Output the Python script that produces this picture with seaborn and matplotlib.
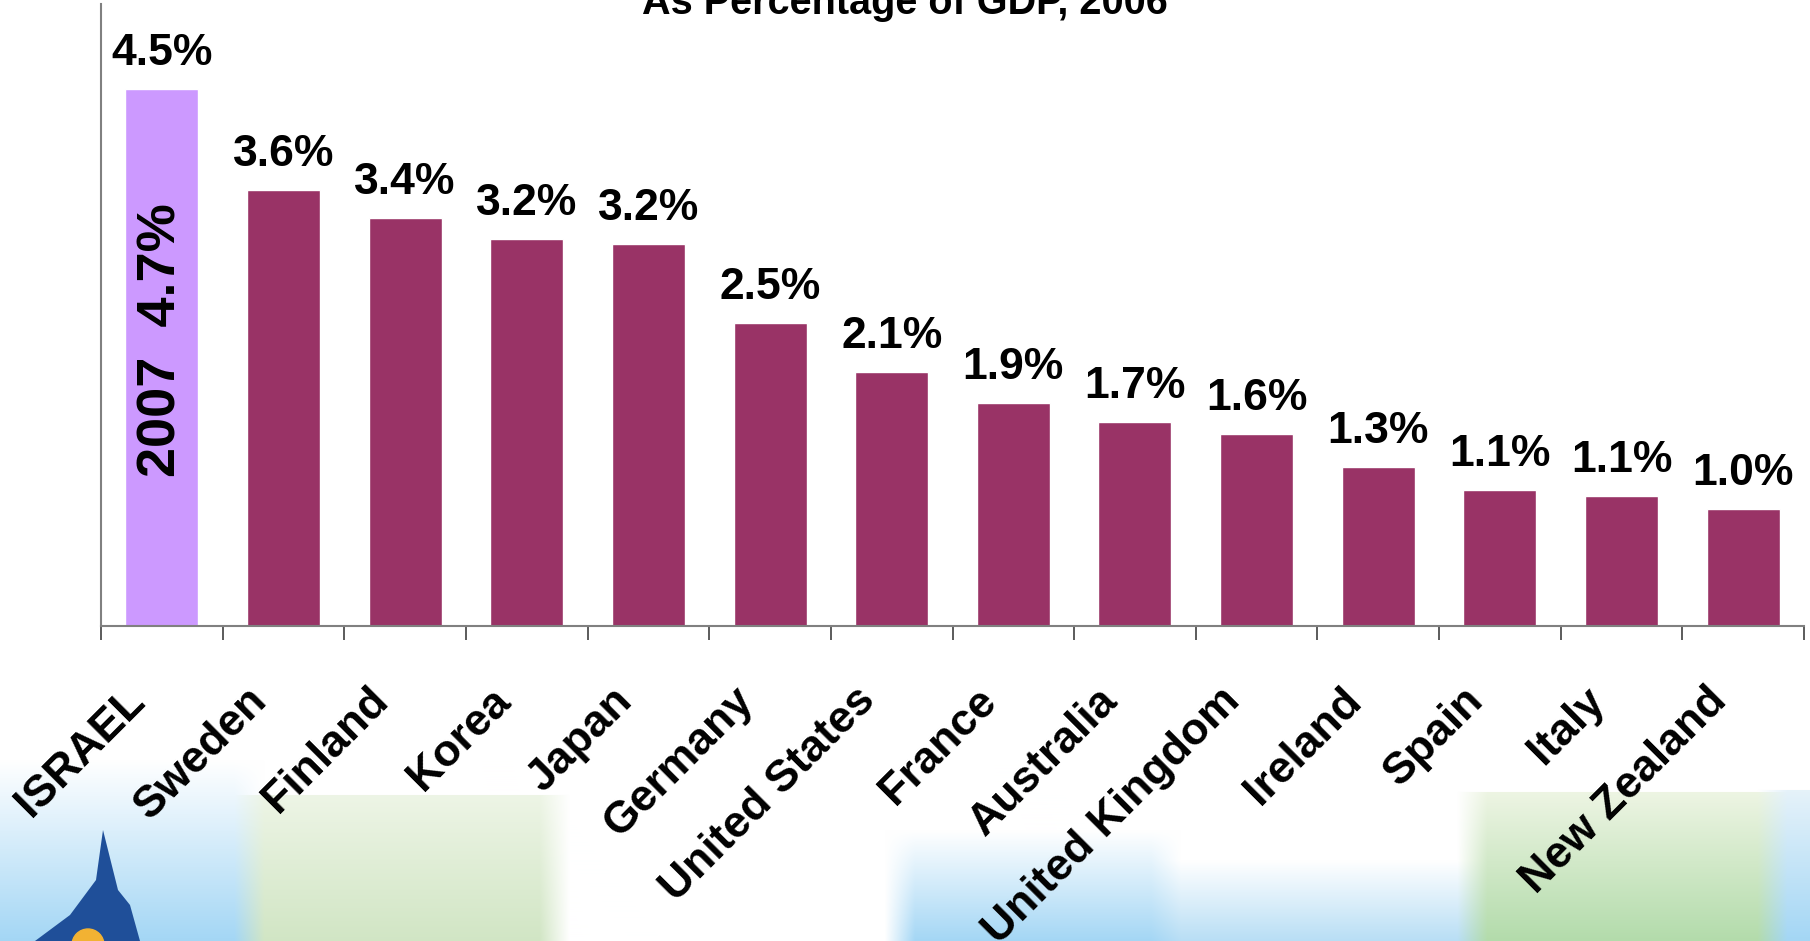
import numpy as np
import matplotlib
matplotlib.use("Agg")
import matplotlib.pyplot as plt
import seaborn as sns
from matplotlib.transforms import ScaledTranslation

# dados (gasto civil em P&D, % do PIB, 2006)
paises = ["ISRAEL", "Sweden", "Finland", "Korea", "Japan", "Germany", "United States",
          "France", "Australia", "United Kingdom", "Ireland", "Spain", "Italy", "New Zealand"]
valores = [4.5, 3.65, 3.42, 3.24, 3.20, 2.54, 2.13, 1.87, 1.71, 1.61, 1.33, 1.14, 1.09, 0.98]
rotulos = ["4.5%", "3.6%", "3.4%", "3.2%", "3.2%", "2.5%", "2.1%", "1.9%", "1.7%",
           "1.6%", "1.3%", "1.1%", "1.1%", "1.0%"]
cores = ["#CC99FF"] + ["#993366"] * 13
nota_israel = "2007  4.7%"
titulo = "As Percentage of GDP, 2006"

sns.set_style("white")
plt.rcParams["font.family"] = ["Liberation Sans", "DejaVu Sans"]
plt.rcParams["text.color"] = "black"
plt.rcParams["xtick.color"] = "black"

W, H = 1810, 941
fig = plt.figure(figsize=(W / 100, H / 100), dpi=100)

# fundo decorativo na parte de baixo (faixas azul / verde)
bg = fig.add_axes([0, 0, 1, 1], zorder=-1)
img = np.ones((H, W, 3))
yy = np.arange(H)[:, None]

def faixa(x0, x1, y0, cor_topo, cor_base):
    t = np.clip((yy - y0) / (H - y0), 0, 1)[..., None]
    ct, cb = np.array(cor_topo), np.array(cor_base)
    alvo = ct * (1 - t) + cb * t
    m = (yy >= y0)[..., None]
    img[:, x0:x1, :] = np.where(m, alvo, img[:, x0:x1, :])

faixa(0, 250, 760, (1.0, 1.0, 1.0), (0.64, 0.84, 0.96))
faixa(250, 555, 795, (0.93, 0.96, 0.90), (0.82, 0.90, 0.77))
faixa(900, 1166, 830, (1.0, 1.0, 1.0), (0.64, 0.84, 0.96))
faixa(1166, 1472, 860, (1.0, 1.0, 1.0), (0.72, 0.87, 0.96))
faixa(1472, 1772, 792, (0.93, 0.96, 0.89), (0.70, 0.86, 0.67))
faixa(1772, W, 790, (0.90, 0.95, 0.98), (0.64, 0.84, 0.96))
# suaviza as bordas na horizontal
k = 15
cs = np.cumsum(np.pad(img, ((0, 0), (k, k), (0, 0)), mode="edge"), axis=1)
img = (cs[:, 2 * k:] - cs[:, :-2 * k]) / (2 * k)
img = np.clip(img[:, :W], 0, 1)
bg.imshow(img, extent=[0, W, H, 0], aspect="auto")
bg.fill([103, 96, 70, 35, 40, 140, 130, 118], [830, 880, 915, 941, 941, 941, 905, 890],
        color="#1f4f99", lw=0)
bg.add_patch(plt.Circle((88, 945), 16, color="#f2b233"))
bg.set_xlim(0, W)
bg.set_ylim(H, 0)
bg.axis("off")

ax = fig.add_axes([101 / W, 1 - 626 / H, (1804 - 101) / W, (626 - 4) / H])
ax.patch.set_alpha(0)
sns.barplot(x=paises, y=valores, hue=paises, palette=cores, legend=False,
            width=0.6, saturation=1, ax=ax)
ax.set_xlim(-0.5, len(paises) - 0.5)
ax.set_ylim(0, 5.213)
ax.set_xlabel("")
ax.set_ylabel("")
ax.set_yticks([])

for s in ["top", "right"]:
    ax.spines[s].set_visible(False)
for s in ["left", "bottom"]:
    ax.spines[s].set_color("#808080")
    ax.spines[s].set_linewidth(1.5)

# rótulos de valor
for i, c in enumerate(ax.containers):
    ax.bar_label(c, labels=[rotulos[i]], padding=11, fontsize=32, fontweight="bold")

# texto dentro da barra de Israel
ax.text(0, 2.4, nota_israel, rotation=90, ha="center", va="center",
        fontsize=39, fontweight="bold")

# marcas entre categorias
ax.set_xticks(np.arange(-0.5, len(paises)), minor=True)
ax.tick_params(axis="x", which="minor", bottom=True, length=10, width=1.2,
               color="#404040", direction="out")
ax.set_xticks(range(len(paises)))
ax.tick_params(axis="x", which="major", bottom=True, length=0, pad=55)
ax.set_xticklabels(paises, rotation=45, ha="right", va="baseline", rotation_mode="anchor",
                   fontsize=32, fontweight="bold", color="black")
for lbl in ax.get_xticklabels():
    lbl.set_transform(lbl.get_transform() + ScaledTranslation(-0.15, 0, fig.dpi_scale_trans))

fig.text(0.5, 1 - 14 / H, titulo, ha="center", va="baseline", fontsize=28.5, fontweight="bold")

fig.savefig("out.png", dpi=100)
